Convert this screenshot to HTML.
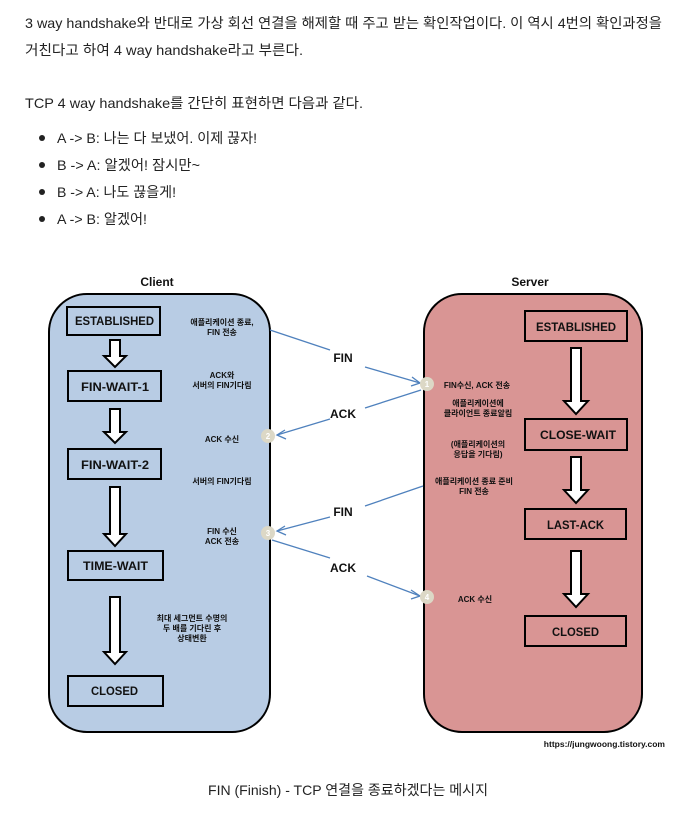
<!DOCTYPE html>
<html><head><meta charset="utf-8"><style>
html,body{margin:0;padding:0;background:#fff;}
svg{display:block;}
.t{font-family:"Liberation Sans","Noto Sans CJK KR",sans-serif;font-size:14px;fill:#222;}
.s{font-family:"Liberation Sans","Noto Sans CJK KR",sans-serif;font-size:12px;font-weight:bold;fill:#111;}
.m{font-family:"Liberation Sans","Noto Sans CJK KR",sans-serif;font-size:8px;font-weight:bold;fill:#111;}
.l{font-family:"Liberation Sans","Noto Sans CJK KR",sans-serif;font-size:12px;font-weight:bold;fill:#111;}
.c{fill:#dcd8c6;}
.n{font-family:"Liberation Sans",sans-serif;font-size:8px;font-weight:bold;fill:#fff;}
</style></head><body>
<svg width="687" height="813" viewBox="0 0 687 813" xmlns="http://www.w3.org/2000/svg">
<text class="t" x="25" y="28" textLength="637" lengthAdjust="spacingAndGlyphs">3 way handshake와 반대로 가상 회선 연결을 해제할 때 주고 받는 확인작업이다. 이 역시 4번의 확인과정을</text>
<text class="t" x="25" y="55" textLength="278" lengthAdjust="spacingAndGlyphs">거친다고 하여 4 way handshake라고 부른다.</text>
<text class="t" x="25" y="108" textLength="338" lengthAdjust="spacingAndGlyphs">TCP 4 way handshake를 간단히 표현하면 다음과 같다.</text>
<circle cx="42" cy="138" r="3" fill="#222"/><circle cx="42" cy="165" r="3" fill="#222"/><circle cx="42" cy="192" r="3" fill="#222"/><circle cx="42" cy="219" r="3" fill="#222"/>
<text class="t" x="57" y="143" textLength="200" lengthAdjust="spacingAndGlyphs">A -&gt; B: 나는 다 보냈어. 이제 끊자!</text>
<text class="t" x="57" y="170" textLength="143" lengthAdjust="spacingAndGlyphs">B -&gt; A: 알겠어! 잠시만~</text>
<text class="t" x="57" y="197" textLength="119" lengthAdjust="spacingAndGlyphs">B -&gt; A: 나도 끊을게!</text>
<text class="t" x="57" y="224" textLength="90" lengthAdjust="spacingAndGlyphs">A -&gt; B: 알겠어!</text>

<text class="s" x="157" y="286" text-anchor="middle">Client</text>
<text class="s" x="530" y="286" text-anchor="middle">Server</text>
<rect x="49" y="294" width="221" height="438" rx="38" fill="#b8cce4" stroke="#000" stroke-width="2"/>
<rect x="424" y="294" width="218" height="438" rx="38" fill="#d99594" stroke="#000" stroke-width="2"/>

<g fill="none" stroke="#000" stroke-width="2">
<rect x="67" y="307" width="93" height="28"/>
<rect x="68" y="371" width="93" height="30"/>
<rect x="68" y="449" width="93" height="30"/>
<rect x="68" y="551" width="95" height="29"/>
<rect x="68" y="676" width="95" height="30"/>
<rect x="525" y="311" width="102" height="30"/>
<rect x="525" y="419" width="102" height="31"/>
<rect x="525" y="509" width="101" height="30"/>
<rect x="525" y="616" width="101" height="30"/>
</g>
<g fill="#fff" stroke="#000" stroke-width="2">
<polygon points="110,340 120,340 120,356 126,356 115,367 104,356 110,356"/>
<polygon points="110,409 120,409 120,432 126,432 115,443 104,432 110,432"/>
<polygon points="110,487 120,487 120,534 126,534 115,546 104,534 110,534"/>
<polygon points="110,597 120,597 120,652 126,652 115,664 104,652 110,652"/>
<polygon points="571,348 581,348 581,401 588,401 576,414 564,401 571,401"/>
<polygon points="571,457 581,457 581,490 588,490 576,503 564,490 571,490"/>
<polygon points="571,551 581,551 581,594 588,594 576,607 564,594 571,594"/>
</g>
<g class="l">
<text x="75" y="325" textLength="79" lengthAdjust="spacingAndGlyphs">ESTABLISHED</text>
<text x="81" y="391" textLength="68" lengthAdjust="spacingAndGlyphs">FIN-WAIT-1</text>
<text x="81" y="469" textLength="68" lengthAdjust="spacingAndGlyphs">FIN-WAIT-2</text>
<text x="83" y="570" textLength="65" lengthAdjust="spacingAndGlyphs">TIME-WAIT</text>
<text x="91" y="695" textLength="47" lengthAdjust="spacingAndGlyphs">CLOSED</text>
<text x="536" y="331" textLength="80" lengthAdjust="spacingAndGlyphs">ESTABLISHED</text>
<text x="540" y="439" textLength="76" lengthAdjust="spacingAndGlyphs">CLOSE-WAIT</text>
<text x="547" y="529" textLength="57" lengthAdjust="spacingAndGlyphs">LAST-ACK</text>
<text x="552" y="636" textLength="47" lengthAdjust="spacingAndGlyphs">CLOSED</text>
</g>
<g class="l" text-anchor="middle">
<text x="343" y="362">FIN</text>
<text x="343" y="418">ACK</text>
<text x="343" y="516">FIN</text>
<text x="343" y="572">ACK</text>
</g>
<g class="m" text-anchor="middle">
<text x="222" y="325">애플리케이션 종료,</text><text x="222" y="335">FIN 전송</text>
<text x="222" y="378">ACK와</text><text x="222" y="388">서버의 FIN기다림</text>
<text x="222" y="442">ACK 수신</text>
<text x="222" y="484">서버의 FIN기다림</text>
<text x="222" y="534">FIN 수신</text><text x="222" y="544">ACK 전송</text>
<text x="192" y="621">최대 세그먼트 수명의</text><text x="192" y="631">두 배를 기다린 후</text><text x="192" y="641">상태변환</text>
<text x="477" y="388">FIN수신, ACK 전송</text>
<text x="478" y="406">애플리케이션에</text><text x="478" y="416">클라이언트 종료알림</text>
<text x="478" y="447">(애플리케이션의</text><text x="478" y="457">응답을 기다림)</text>
<text x="474" y="484">애플리케이션 종료 준비</text><text x="474" y="494">FIN 전송</text>
<text x="475" y="602">ACK 수신</text>
</g>
<g stroke="#4f81bd" stroke-width="1.3" fill="none">
<line x1="270" y1="330" x2="330" y2="350"/>
<polyline points="365,367 420,383"/><polyline points="412,377 420,383 411,386"/>
<line x1="421" y1="390" x2="365" y2="408"/>
<line x1="330" y1="419" x2="277" y2="435"/><polyline points="285,430 277,435 286,439"/>
<line x1="423" y1="486" x2="365" y2="506"/>
<line x1="330" y1="517" x2="277" y2="531"/><polyline points="285,526 277,531 286,535"/>
<line x1="272" y1="540" x2="330" y2="558"/>
<line x1="367" y1="576" x2="420" y2="596"/><polyline points="411,590 420,596 411,599"/>
</g>
<circle class="c" cx="427" cy="384" r="7"/><text class="n" x="427" y="387" text-anchor="middle">1</text>
<circle class="c" cx="268" cy="436" r="7"/><text class="n" x="268" y="439" text-anchor="middle">2</text>
<circle class="c" cx="268" cy="533" r="7"/><text class="n" x="268" y="536" text-anchor="middle">3</text>
<circle class="c" cx="427" cy="597" r="7"/><text class="n" x="427" y="600" text-anchor="middle">4</text>
<text x="665" y="747" text-anchor="end" font-family="Liberation Sans,sans-serif" font-size="8.5" font-weight="bold" fill="#111">https://jungwoong.tistory.com</text>
<text class="t" x="208" y="795" textLength="280" lengthAdjust="spacingAndGlyphs">FIN (Finish) - TCP 연결을 종료하겠다는 메시지</text>
</svg>
</body></html>
